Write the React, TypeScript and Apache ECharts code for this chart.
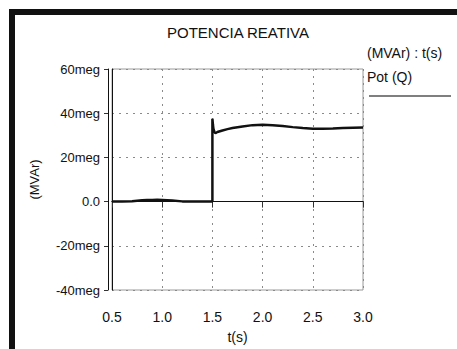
import React, { useEffect, useRef } from "react";
import * as echarts from "echarts";

const timeS = [0.5, 0.6, 0.7, 0.75, 0.8, 0.85, 0.9, 0.95, 1.0, 1.05, 1.1, 1.2, 1.3, 1.4, 1.5, 1.5, 1.505, 1.51, 1.52, 1.53, 1.55, 1.6, 1.65, 1.7, 1.8, 1.9, 2.0, 2.1, 2.2, 2.3, 2.4, 2.5, 2.6, 2.7, 2.8, 2.9, 3.0];
const qMVAr = [0, 0, 0.2, 0.4, 0.6, 0.7, 0.7, 0.8, 0.7, 0.6, 0.5, 0.1, 0, 0, 0, 37.5, 35, 33, 31.5, 31, 31.5, 32.2, 32.8, 33.3, 34, 34.6, 34.8, 34.6, 34.2, 33.7, 33.3, 33, 33, 33.1, 33.3, 33.4, 33.5];
const seriesName = "Pot (Q)";
const titleText = "POTENCIA REATIVA";
const legendHeader = "(MVAr) : t(s)";
const yName = "(MVAr)";
const xName = "t(s)";

const FONT = '"Liberation Sans", Arial, sans-serif';
const TXT = "#111";

export default function App() {
  const ref = useRef<HTMLDivElement>(null);
  useEffect(() => {
    if (!ref.current) return;
    const chart = echarts.init(ref.current, null, { renderer: "svg" });
    const grid = "#8a8a8a";
    chart.setOption({
      animation: false,
      backgroundColor: "#ffffff",
      title: {
        text: titleText,
        left: 167,
        top: 25,
        padding: 0,
        textStyle: { fontSize: 15, fontWeight: "normal", color: TXT, fontFamily: FONT },
      },
      grid: { left: 112, right: 94, top: 69, bottom: 59, show: true, borderColor: "#9a9a9a", borderWidth: 1, backgroundColor: "transparent" },
      xAxis: [
        {
          type: "value", min: 0.5, max: 3.0, interval: 0.5, position: "bottom", offset: 3,
          axisLine: { show: true, lineStyle: { color: "#111", width: 1 } },
          axisTick: { show: true, length: 6, lineStyle: { color: "#333" } },
          axisLabel: { margin: 17, fontSize: 14, color: TXT, fontFamily: FONT, formatter: (v: number) => v.toFixed(1) },
          splitLine: { show: false },
          name: xName, nameLocation: "middle", nameGap: 37,
          nameTextStyle: { fontSize: 14, color: TXT, fontFamily: FONT },
        },
        {
          type: "value", min: 0.5, max: 3.0, interval: 0.5, position: "bottom", offset: 0,
          axisLine: { show: true, lineStyle: { color: "#111", width: 1 } },
          axisTick: { show: false }, axisLabel: { show: false },
          splitLine: { show: true, lineStyle: { color: grid, type: [2, 5], width: 1 } },
        },
      ],
      yAxis: [
        {
          type: "value", min: -40, max: 60, interval: 20, position: "left", offset: 4,
          axisLine: { show: true, lineStyle: { color: "#111", width: 1 } },
          axisTick: { show: true, length: 4, lineStyle: { color: "#333" } },
          axisLabel: { margin: 8, fontSize: 13, color: TXT, fontFamily: FONT, formatter: (v: number) => (v === 0 ? "0.0" : `${v}meg`) },
          splitLine: { show: false },
          name: yName, nameLocation: "middle", nameGap: 67,
          nameTextStyle: { fontSize: 13, color: TXT, fontFamily: FONT },
        },
        {
          type: "value", min: -40, max: 60, interval: 20, position: "left", offset: 0,
          axisLine: { show: true, lineStyle: { color: "#111", width: 1 } },
          axisTick: { show: false }, axisLabel: { show: false },
          splitLine: { show: true, lineStyle: { color: grid, type: [2, 5], width: 1 } },
        },
      ],
      series: [
        {
          name: seriesName,
          type: "line",
          xAxisIndex: 0,
          yAxisIndex: 0,
          showSymbol: false,
          symbol: "none",
          lineStyle: { color: "#111", width: 2.5 },
          data: timeS.map((t, i) => [t, qMVAr[i]]),
        },
      ],
      graphic: [
        { type: "rect", shape: { x: 9, y: 9, width: 448, height: 6 }, style: { fill: "#111" } },
        { type: "rect", shape: { x: 9, y: 9, width: 6, height: 340 }, style: { fill: "#111" } },
        { type: "text", x: 367, y: 53, style: { text: legendHeader, fontSize: 14, fill: TXT, fontFamily: FONT, verticalAlign: "middle" } },
        { type: "text", x: 367, y: 77, style: { text: seriesName, fontSize: 14, fill: TXT, fontFamily: FONT, verticalAlign: "middle" } },
        { type: "line", shape: { x1: 369, y1: 96, x2: 451, y2: 96 }, style: { stroke: "#555", lineWidth: 1.5 } },
      ],
    });
    return () => chart.dispose();
  }, []);
  return (
    <div
      ref={ref}
      style={{ position: "fixed", left: 0, top: 0, width: 457, height: 349, background: "#fff" }}
    />
  );
}
